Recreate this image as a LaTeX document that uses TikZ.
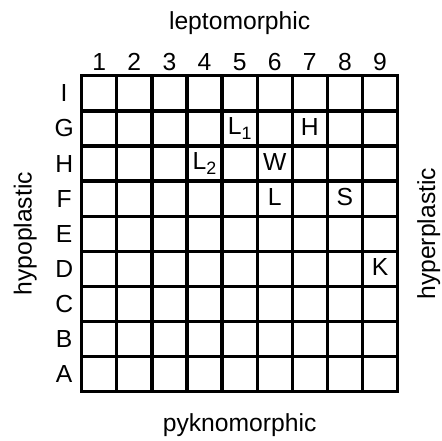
\documentclass[tikz,border=0pt]{standalone}
\usepackage{fontspec}
\setmainfont{Liberation Sans}
\usepackage{tikz}

\newcommand{\subidx}[1]{\raisebox{-0.45ex}{\fontsize{14.5}{16}\selectfont #1}}

\begin{document}
\begin{tikzpicture}[
  lbl/.style={inner sep=0pt, font=\fontsize{20}{23}\selectfont},
  side/.style={lbl, rotate=90},
  gridline/.style={line width=2.6pt, line cap=rect},
]
  \useasboundingbox (-2.328,-1.405) rectangle (10.237,11.16);

  \draw[gridline] (0,0) grid (9,9);

  % axis names
  \node[lbl] (top) at (4.5,10.5) {leptomorphic};
  \node[lbl] (bottom) at (4.5,-0.95) {pyknomorphic};
  \node[side] (left) at (-1.61,4.5) {hypoplastic};
  \node[side] (right) at (9.89,4.5) {hyperplastic};

  % column numbers
  \node[lbl] (c1) at (0.5,9.39) {1};
  \node[lbl] (c2) at (1.5,9.39) {2};
  \node[lbl] (c3) at (2.5,9.39) {3};
  \node[lbl] (c4) at (3.5,9.39) {4};
  \node[lbl] (c5) at (4.5,9.39) {5};
  \node[lbl] (c6) at (5.5,9.39) {6};
  \node[lbl] (c7) at (6.5,9.39) {7};
  \node[lbl] (c8) at (7.5,9.39) {8};
  \node[lbl] (c9) at (8.5,9.39) {9};

  % row letters
  \node[lbl] (rI) at (-0.5,8.5) {I};
  \node[lbl] (rG) at (-0.5,7.5) {G};
  \node[lbl] (rH) at (-0.5,6.5) {H};
  \node[lbl] (rF) at (-0.5,5.5) {F};
  \node[lbl] (rE) at (-0.5,4.5) {E};
  \node[lbl] (rD) at (-0.5,3.5) {D};
  \node[lbl] (rC) at (-0.5,2.5) {C};
  \node[lbl] (rB) at (-0.5,1.5) {B};
  \node[lbl] (rA) at (-0.5,0.5) {A};

  % entries
  \node[lbl] (l1) at (4.5,7.5) {L\subidx{1}};
  \node[lbl] (h) at (6.5,7.55) {H};
  \node[lbl] (l2) at (3.5,6.5) {L\subidx{2}};
  \node[lbl] (w) at (5.5,6.55) {W};
  \node[lbl] (l) at (5.5,5.55) {L};
  \node[lbl] (s) at (7.5,5.55) {S};
  \node[lbl] (k) at (8.5,3.55) {K};
\end{tikzpicture}
\end{document}
